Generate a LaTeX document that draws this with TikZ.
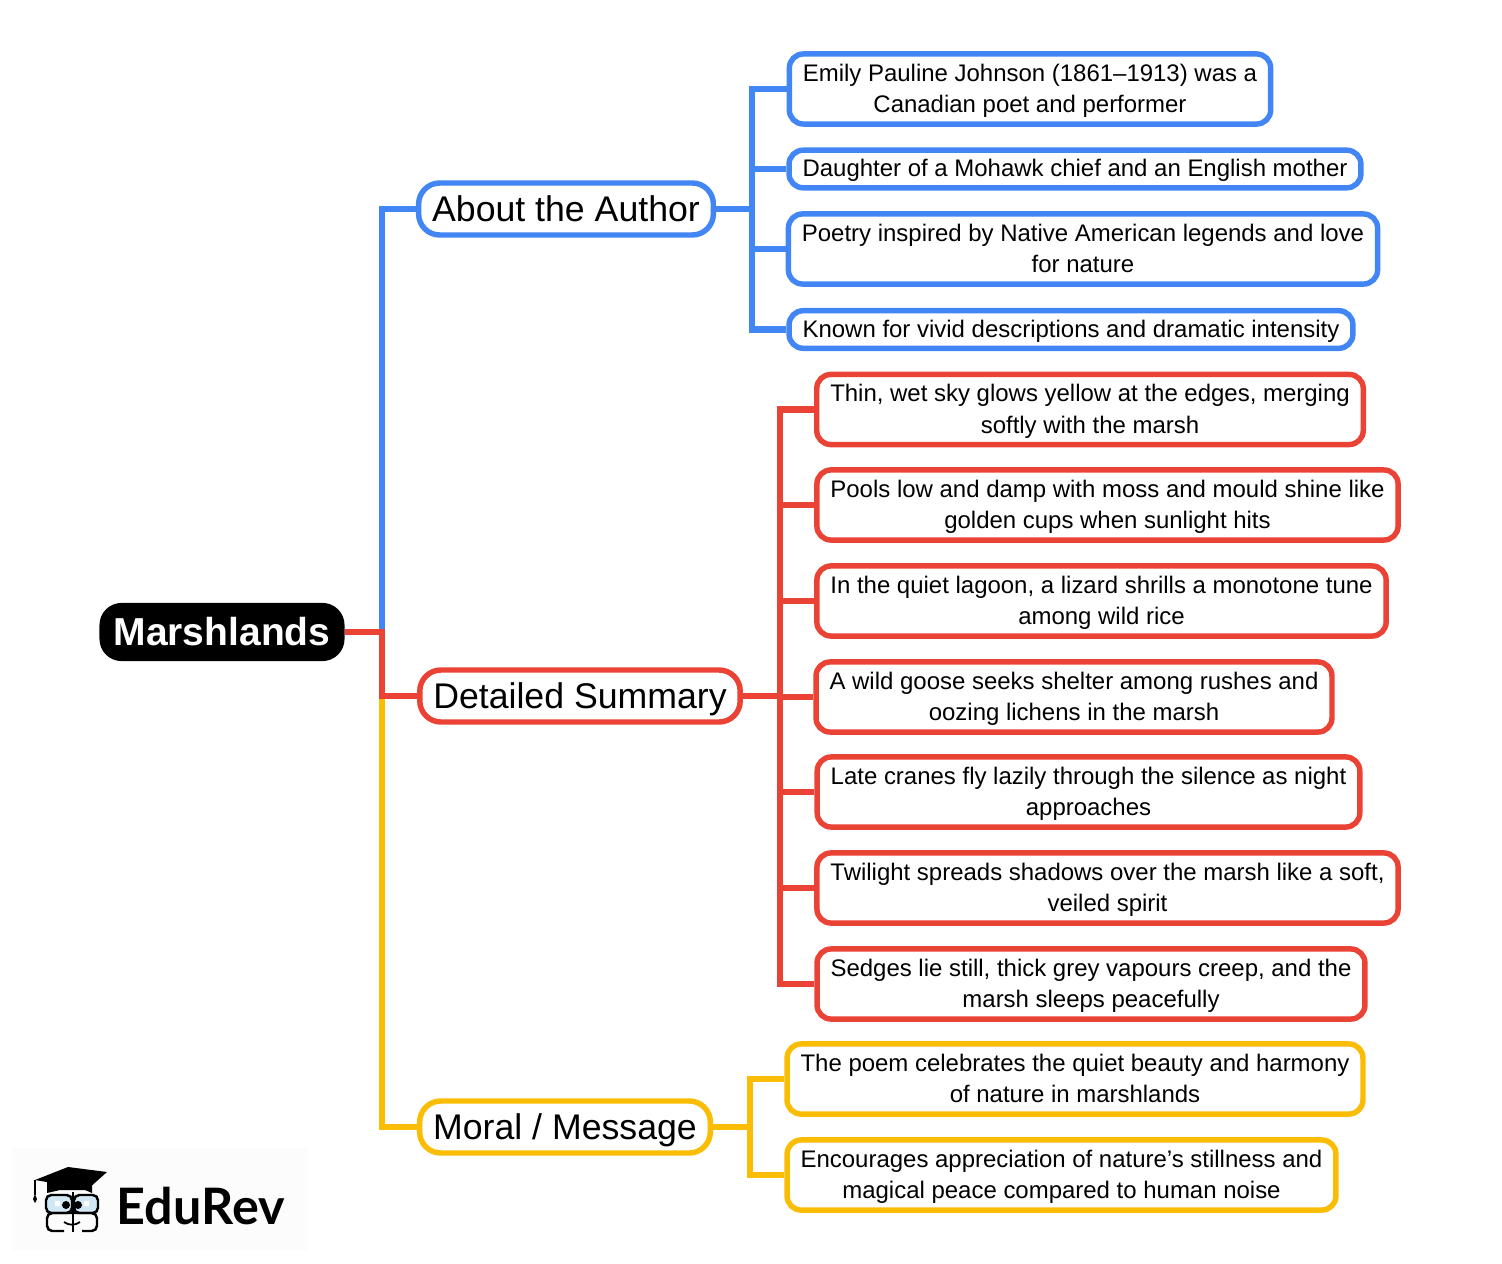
\documentclass[tikz,border=0pt]{standalone}
\usepackage{fontspec}
\setmainfont{Liberation Sans}
\newfontfamily\logofont{Lato}
\definecolor{mapblue}{HTML}{4285F4}
\definecolor{mapred}{HTML}{EA4335}
\definecolor{mapyellow}{HTML}{FBBC04}
\definecolor{glassblue}{HTML}{D3E8F5}
\tikzset{
  box/.style={draw,line width=3.1pt,fill=white,align=center,inner xsep=7.7pt,inner ysep=0pt,text depth=0pt},
  leaf/.style={box,rounded corners=8pt,text depth=0.8pt,minimum height=39.9pt,font=\fontsize{13.64}{17.8}\selectfont},
  leafone/.style={leaf,minimum height=21.4pt},
  branch/.style={box,rounded corners=12pt,minimum height=29.6pt,font=\fontsize{20.3}{25}\selectfont},
  link/.style={line width=3.7pt}
}
\begin{document}
\begin{tikzpicture}[x=0.02cm,y=-0.02cm]
  \useasboundingbox (0,0) rectangle (1502,1264);

  % logo
  \fill[black!1] (12,1148) rectangle (308,1250);
  \draw[line width=1.4pt,rounded corners=3pt,fill=glassblue] (46,1195) rectangle (72,1213);
  \draw[line width=1.4pt,rounded corners=3pt,fill=glassblue] (74,1195) rectangle (98,1213);
  \draw[line width=1.4pt,rounded corners=3pt] (72,1213) -- (47,1213) -- (47,1231) -- (64,1231);
  \draw[line width=1.4pt,rounded corners=3pt] (74,1213) -- (97,1213) -- (97,1231) -- (82,1231);
  \draw[line width=1.4pt] (73,1192) -- (73,1232);
  \fill (47,1180) -- (47,1193) -- (60,1190) -- (85,1190) -- (92,1193) -- (92,1180) -- cycle;
  \fill (35,1180) -- (68,1167) -- (107,1172) -- (88,1189) -- cycle;
  \draw[line width=0.9pt] (35,1180) -- (35,1195);
  \fill (35,1194) -- (37,1199) -- (35,1203) -- (33,1199) -- cycle;
  \fill[white] (55,1201) rectangle (60,1206);
  \fill[white] (84,1201) rectangle (89,1206);
  \fill (66,1205) circle (4);
  \fill (78,1205) circle (4);
  \draw[line width=1pt] (64,1222) to[bend right=35] (80,1222);
  \node[anchor=base west,inner sep=0pt,font=\logofont\bfseries\fontsize{28.6}{30}\selectfont] (logotext) at (116.5,1224) {EduRev};

  % connectors come first, the boxes sit on top
  \coordinate (trunk) at (382,632);
  \coordinate (busabout) at (752,209);
  \coordinate (busdetail) at (780,696);
  \coordinate (busmoral) at (750,1127);

  \node[box,fill=black,draw=black,text=white,rounded corners=11pt,inner xsep=6.5pt,text depth=1pt,minimum width=136pt,minimum height=30pt,font=\bfseries\fontsize{22.2}{26}\selectfont] (root) at (222,632) {Marshlands};

  \node[branch,draw=mapblue] (about) at (566,209) {About the Author};
  \node[branch,draw=mapred] (detail) at (580,696) {Detailed Summary};
  \node[branch,draw=mapyellow] (moral) at (565,1127) {Moral / Message};

  \node[leaf,draw=mapblue] (a1) at (1030,89) {Emily Pauline Johnson (1861–1913) was a\\Canadian poet and performer};
  \node[leafone,draw=mapblue] (a2) at (1075,169) {Daughter of a Mohawk chief and an English mother};
  \node[leaf,draw=mapblue] (a3) at (1083,249) {Poetry inspired by Native American legends and love\\for nature};
  \node[leafone,draw=mapblue] (a4) at (1071,329.5) {Known for vivid descriptions and dramatic intensity};

  \node[leaf,draw=mapred] (d1) at (1090,409.5) {Thin, wet sky glows yellow at the edges, merging\\softly with the marsh};
  \node[leaf,draw=mapred] (d2) at (1107.5,505) {Pools low and damp with moss and mould shine like\\golden cups when sunlight hits};
  \node[leaf,draw=mapred] (d3) at (1101.5,601) {In the quiet lagoon, a lizard shrills a monotone tune\\among wild rice};
  \node[leaf,draw=mapred] (d4) at (1074,697) {A wild goose seeks shelter among rushes and\\oozing lichens in the marsh};
  \node[leaf,draw=mapred] (d5) at (1088.5,792) {Late cranes fly lazily through the silence as night\\approaches};
  \node[leaf,draw=mapred] (d6) at (1107.5,888) {Twilight spreads shadows over the marsh like a soft,\\veiled spirit};
  \node[leaf,draw=mapred] (d7) at (1091,984) {Sedges lie still, thick grey vapours creep, and the\\marsh sleeps peacefully};

  \node[leaf,draw=mapyellow] (m1) at (1075,1079) {The poem celebrates the quiet beauty and harmony\\of nature in marshlands};
  \node[leaf,draw=mapyellow] (m2) at (1061.5,1175) {Encourages appreciation of nature’s stillness and\\magical peace compared to human noise};

  \draw[link,mapblue] (trunk) |- (about.west);
  \draw[link,mapyellow] (trunk) |- (moral.west);
  \draw[link,mapred] (root.east) -- (trunk) |- (detail.west);

  \draw[link,mapblue] (about.east) -- (busabout);
  \foreach \n in {a1,a2,a3,a4}
    \draw[link,mapblue] (busabout) |- (\n.west);

  \draw[link,mapred] (detail.east) -- (busdetail);
  \foreach \n in {d1,d2,d3,d4,d5,d6,d7}
    \draw[link,mapred] (busdetail) |- (\n.west);

  \draw[link,mapyellow] (moral.east) -- (busmoral);
  \foreach \n in {m1,m2}
    \draw[link,mapyellow] (busmoral) |- (\n.west);
\end{tikzpicture}
\end{document}
